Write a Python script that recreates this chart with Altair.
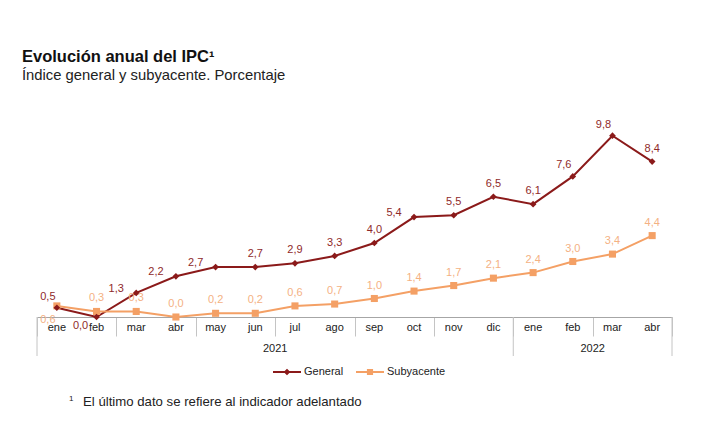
import altair as alt
import pandas as pd

months = ["ene", "feb", "mar", "abr", "may", "jun", "jul", "ago", "sep", "oct", "nov", "dic",
          "ene", "feb", "mar", "abr"]
years = ["2021"] * 12 + ["2022"] * 4
general = [0.5, 0.0, 1.3, 2.2, 2.7, 2.7, 2.9, 3.3, 4.0, 5.4, 5.5, 6.5, 6.1, 7.6, 9.8, 8.4]
subyacente = [0.6, 0.3, 0.3, 0.0, 0.2, 0.2, 0.6, 0.7, 1.0, 1.4, 1.7, 2.1, 2.4, 3.0, 3.4, 4.4]
series_names = ["General", "Subyacente"]

# label placement names per point (style choice)
place_general = ["upleft", "downleft", "left", "left", "left", "above", "above", "above",
                 "above", "left", "above", "above", "above", "upleft", "upleft", "above"]
place_sub = ["belowleft"] + ["above"] * 15

OFFSETS = {"above": (0, -13), "upleft": (-9, -11), "left": (-20, -4),
           "downleft": (-16, 9), "belowleft": (-9, 14)}

RED = "#8B1A1A"
ORANGE = "#F4A065"
RED_TXT = "#8f2a2a"
ORANGE_TXT = "#f4b183"
FONT = "Liberation Sans"

W, H = 635, 222

rows = []
for i, m in enumerate(months):
    rows.append({"pos": i + 0.5, "month": m, "year": years[i], "series": "General",
                 "value": general[i], "label": f"{general[i]:.1f}".replace(".", ","),
                 "place": place_general[i]})
    rows.append({"pos": i + 0.5, "month": m, "year": years[i], "series": "Subyacente",
                 "value": subyacente[i], "label": f"{subyacente[i]:.1f}".replace(".", ","),
                 "place": place_sub[i]})
df = pd.DataFrame(rows)

year_bounds = [0]
for i in range(1, len(years)):
    if years[i] != years[i - 1]:
        year_bounds.append(i)
year_bounds.append(len(years))
bounds_df = pd.DataFrame({"b": year_bounds})

xscale = alt.Scale(domain=[0, len(months)], nice=False, zero=False)
yscale = alt.Scale(domain=[0, 12], nice=False)
X = alt.X("pos:Q", scale=xscale,
          axis=alt.Axis(values=list(range(len(months) + 1)), labels=False, title=None,
                        tickSize=19, tickColor="#c4c4c4", tickWidth=1,
                        domainColor="#a6a6a6", domainWidth=1, grid=False))
Y = alt.Y("value:Q", scale=yscale, axis=None)

base = alt.Chart(df)

line_g = base.transform_filter("datum.series === 'General'").mark_line(
    strokeWidth=2, color=RED).encode(x=X, y=Y)
line_s = base.transform_filter("datum.series === 'Subyacente'").mark_line(
    strokeWidth=2, color=ORANGE).encode(x="pos:Q", y="value:Q")

pts_g = base.transform_filter("datum.series === 'General'").mark_point(
    shape="diamond", filled=True, size=45, color=RED, opacity=1).encode(x="pos:Q", y="value:Q")
pts_s = base.transform_filter("datum.series === 'Subyacente'").mark_point(
    shape="square", filled=True, size=50, color=ORANGE, opacity=1).encode(x="pos:Q", y="value:Q")

# legend-only layer (no data rows drawn)
leg_shapes = ["M-1,-0.07H1V0.07H-1Z M0,-0.24L0.24,0L0,0.24L-0.24,0Z",
              "M-1,-0.07H1V0.07H-1Z M-0.22,-0.22H0.22V0.22H-0.22Z"]
legend_layer = base.transform_filter("false").mark_point(filled=True, opacity=1).encode(
    x="pos:Q", y="value:Q",
    color=alt.Color("series:N",
                    scale=alt.Scale(domain=series_names, range=[RED, ORANGE]),
                    legend=alt.Legend(
                        title=None, orient="none", legendX=236, legendY=263,
                        direction="horizontal", padding=0,
                        symbolSize=784, symbolStrokeWidth=0,
                        labelFont=FONT, labelFontSize=11, labelColor="#222",
                        columnPadding=12, labelOffset=3)),
    shape=alt.Shape("series:N", scale=alt.Scale(domain=series_names, range=leg_shapes)),
)

label_layers = []
for series, places, col in [("General", place_general, RED_TXT), ("Subyacente", place_sub, ORANGE_TXT)]:
    for p in sorted(set(places)):
        dx, dy = OFFSETS[p]
        label_layers.append(
            base.transform_filter(f"datum.series === '{series}' && datum.place === '{p}'")
            .mark_text(font=FONT, fontSize=11, color=col, dx=dx, dy=dy,
                       align="center", baseline="middle")
            .encode(x="pos:Q", y="value:Q", text="label:N"))

month_text = alt.Chart(df[df.series == "General"]).mark_text(
    font=FONT, fontSize=11, color="#222", baseline="middle", align="center").encode(
    x="pos:Q", y=alt.value(H + 11), text="month:N")

year_text = alt.Chart(df[df.series == "General"]).transform_aggregate(
    pos="mean(pos)", groupby=["year"]).mark_text(
    font=FONT, fontSize=11, color="#222", baseline="middle", align="center").encode(
    x="pos:Q", y=alt.value(H + 32), text="year:N")

year_rules = alt.Chart(bounds_df).mark_rule(color="#c4c4c4", strokeWidth=1).encode(
    x="b:Q", y=alt.value(H), y2=alt.value(H + 39))

foot1 = alt.Chart(pd.DataFrame({"t": ["1"]})).mark_text(
    font=FONT, fontSize=8, color="#222", align="left", baseline="alphabetic").encode(
    x=alt.value(32), y=alt.value(306), text="t:N")
foot2 = alt.Chart(pd.DataFrame({"t": ["El último dato se refiere al indicador adelantado"]})).mark_text(
    font=FONT, fontSize=13.2, color="#222", align="left", baseline="alphabetic").encode(
    x=alt.value(46), y=alt.value(311), text="t:N")

chart = alt.layer(year_rules, line_g, line_s, pts_s, pts_g, legend_layer, *label_layers,
                  month_text, year_text, foot1, foot2).properties(
    width=W, height=H,
    title=alt.Title(text="Evolución anual del IPC¹",
                    subtitle="Índice general y subyacente. Porcentaje",
                    anchor="start", frame="group", dx=-15, offset=12,
                    font=FONT, fontSize=16.5, fontWeight="bold", color="#111",
                    subtitleFont=FONT, subtitleFontSize=14.8, subtitleColor="#222",
                    subtitlePadding=3),
    autosize=alt.AutoSizeParams(type="none"),
    padding={"left": 29, "top": 87, "right": 37, "bottom": 102},
    background="white",
).configure_view(strokeWidth=0, stroke="transparent")

chart.save("out.html", embed_options={"renderer": "svg", "actions": False})
